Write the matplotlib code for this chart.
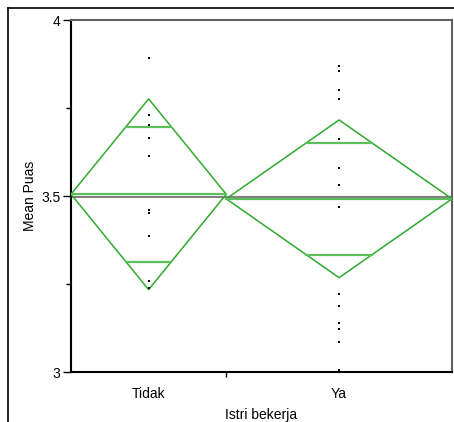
import numpy as np
import matplotlib.pyplot as plt
from matplotlib.lines import Line2D

plt.rcParams['font.family'] = ['Liberation Sans', 'DejaVu Sans']

# data
groups = ['Tidak', 'Ya']
n_obs = [11, 16]                       # group widths in JMP are proportional to n
means = [3.505, 3.492]
ci_half = [0.271, 0.224]               # 95% CI half-width (diamond height)
grand_mean = 3.497

tidak_vals = [3.893, 3.731, 3.703, 3.666, 3.614, 3.460, 3.451, 3.386, 3.259, 3.239]
ya_vals = [3.869, 3.855, 3.800, 3.776, 3.662, 3.580, 3.530, 3.469, 3.221, 3.188,
           3.138, 3.121, 3.086, 3.006]
points = [tidak_vals, ya_vals]

green = '#2eaa2e'
green_light = '#5cbf5c'

fig = plt.figure(figsize=(4.54, 4.22), dpi=100)
ax = fig.add_axes([71/454, 1-372/422, (452-71)/454, (372-20)/422])

edges = np.concatenate([[0], np.cumsum(n_obs)])
centers = (edges[:-1] + edges[1:]) / 2

ax.axhline(grand_mean, color='#808080', lw=1.5, zorder=1)

for i in range(len(groups)):
    x0, x1, xc = edges[i], edges[i+1], centers[i]
    m, h = means[i], ci_half[i]
    hw = (x1 - x0) / 2
    # diamond
    ax.plot([x0, xc, x1, xc, x0], [m, m + h, m, m - h, m], color=green, lw=1.1, zorder=3)
    # mean line
    ax.plot([x0, x1], [m, m], color=green_light, lw=1.6, zorder=3)
    # overlap marks
    d = h / np.sqrt(2)
    w = hw * (1 - 1 / np.sqrt(2))
    for yy in (m + d, m - d):
        ax.plot([xc - w, xc + w], [yy, yy], color=green_light, lw=1.6, zorder=3)
    # raw points
    ax.plot([xc] * len(points[i]), points[i], 's', color='black', ms=2.0, mew=0, zorder=4)

ax.set_xlim(edges[0], edges[-1])
ax.set_ylim(3, 4)

ax.set_yticks([3, 3.5, 4])
ax.set_yticklabels(['3', '3.5', '4'])
ax.set_yticks([3.25, 3.75], minor=True)
ax.tick_params(axis='y', which='major', length=6, width=1, pad=1.5, labelsize=10)
ax.tick_params(axis='y', which='minor', length=3.6, width=1)

ax.set_xticks(centers)
ax.set_xticklabels(groups)
ax.set_xticks(edges[1:-1], minor=True)
ax.tick_params(axis='x', which='major', length=0, pad=10.5, labelsize=10)
ax.tick_params(axis='x', which='minor', length=3.5, width=1)

ax.set_xlabel('Istri bekerja', fontsize=10, labelpad=5)
ax.set_ylabel('Mean Puas', fontsize=10, labelpad=3)

for s in ['left', 'bottom']:
    ax.spines[s].set_color('black')
    ax.spines[s].set_linewidth(1.5)
for s in ['top', 'right']:
    ax.spines[s].set_color('#606060')
    ax.spines[s].set_linewidth(1.5)

# outer report frame
fig.add_artist(Line2D([8/454, 1], [1-8/422, 1-8/422], color='black', lw=1.2))
fig.add_artist(Line2D([8/454, 8/454], [0, 1-8/422], color='black', lw=1.2))

fig.savefig('out.png', dpi=100)
